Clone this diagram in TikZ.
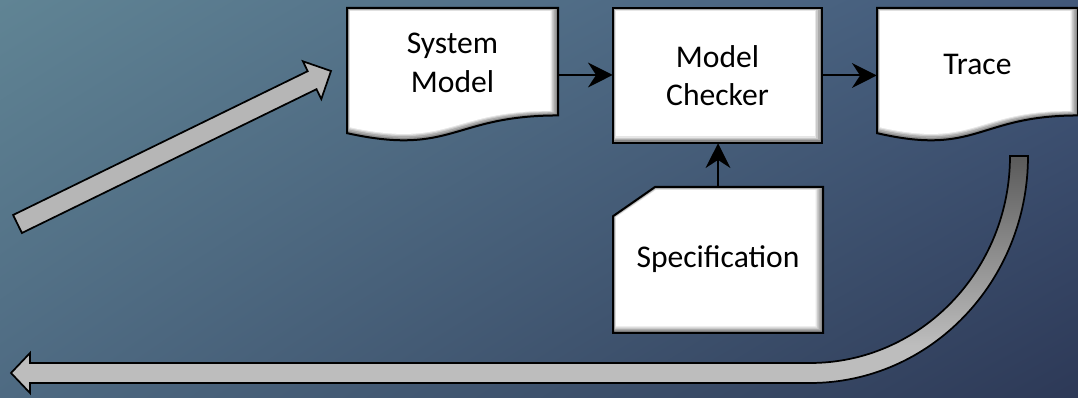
\documentclass[tikz,border=0pt]{standalone}
\usepackage{fontspec}
\setmainfont{Carlito}
\usetikzlibrary{arrows.meta,fit,shadings}
\definecolor{bgUL}{HTML}{608494}
\definecolor{bgLL}{HTML}{4E6A82}
\definecolor{bgUR}{HTML}{42587A}
\definecolor{bgLR}{HTML}{2D3957}
\definecolor{curvDark}{HTML}{5A5A5A}
\definecolor{curvLight}{HTML}{BDBDBD}
\definecolor{arrGray}{HTML}{B6B6B6}
\definecolor{bevA}{HTML}{8C8C8C}
\definecolor{bevB}{HTML}{ABABAB}
\definecolor{bevC}{HTML}{CACACA}
\definecolor{bevD}{HTML}{E6E6E6}
\pgfdeclareverticalshading{curvsh}{100bp}{color(0bp)=(curvLight); color(35bp)=(curvLight); color(75bp)=(curvDark); color(100bp)=(curvDark)}
% document shape: x0 y0 w h
\newcommand\docpth[4]{(#1,#2) -- ({(#1)+(#3)},#2) -- ({(#1)+(#3)},{(#2)+0.802*(#4)}) .. controls ({(#1)+(#3)/2},{(#2)+0.802*(#4)}) and ({(#1)+(#3)/2},{(#2)+1.1075*(#4)}) .. (#1,{(#2)+0.934*(#4)}) -- cycle}
\newcommand\rectpth[4]{(#1,#2) rectangle ({(#1)+(#3)},{(#2)+(#4)})}
\newcommand\cardpth[4]{({(#1)+0.2*(#3)},#2) -- ({(#1)+(#3)},#2) -- ({(#1)+(#3)},{(#2)+(#4)}) -- (#1,{(#2)+(#4)}) -- (#1,{(#2)+0.2*(#4)}) -- cycle}
% bevelled box: shape macro, x0 y0 w h
\newcommand\bevelbox[5]{%
  \fill[bevA] #1{#2}{#3}{#4}{#5};
  \fill[bevB] #1{#2+1}{#3+1}{#4-3.5}{#5-3.5};
  \fill[bevC] #1{#2+1.8}{#3+1.8}{#4-6.3}{#5-6};
  \fill[bevD] #1{#2+2.4}{#3+2.4}{#4-8.4}{#5-7.8};
  \fill[white] #1{#2+3}{#3+3}{#4-10.5}{#5-9.5};
  \draw[boxline] #1{#2}{#3}{#4}{#5};}
\tikzset{
  boxline/.style={line width=1.5pt, line join=miter},
  conn/.style={line width=1.5pt, -{Stealth[length=18.5pt,width=18.5pt,inset=6pt]}},
  lbl/.style={font=\fontsize{23.7pt}{29pt}\selectfont, align=center, text=black, inner sep=0pt},
  blockarr/.style={line width=1.3pt, line join=miter, draw=black}
}
\begin{document}
\begin{tikzpicture}[x=0.75pt,y=-0.75pt]
\useasboundingbox (0,0) rectangle (1078,398);
\shade[upper left=bgUL, lower left=bgLL, upper right=bgUR, lower right=bgLR] (0,0) rectangle (1078,398);

% boxes
\bevelbox{\docpth}{347}{8}{211}{134}
\bevelbox{\rectpth}{613}{8}{209}{135}
\bevelbox{\docpth}{877}{8}{201}{134}
\bevelbox{\cardpth}{613}{187}{210}{146}

\node[fit={(347,8) (558,142)}, inner sep=0pt] (sm) {};
\node[fit={(613,8) (822,143)}, inner sep=0pt] (mc) {};
\node[fit={(877,8) (1078,142)}, inner sep=0pt] (tr) {};
\node[fit={(613,187) (823,333)}, inner sep=0pt] (sp) {};

\node[lbl] (smt) at ([yshift=9pt]sm.center) {System\\Model};
\node[lbl] (mct) at (mc.center) {Model\\Checker};
\node[lbl] (trt) at ([yshift=8pt]tr.center) {Trace};
\node[lbl] (spt) at ([yshift=1pt]sp.center) {Specification};

% connectors
\draw[conn] (sm.east) -- (sm.east -| mc.west);
\draw[conn] (mc.east) -- (mc.east -| tr.west);
\draw[conn] (sp.north) -- (sp.north |- mc.south);

% diagonal block arrow
\fill[arrGray] (21.9,233) -- (316.5,89.2) -- (321.3,99.1) -- (331,71) -- (302.9,61.3) -- (307.7,71.2) -- (13.1,215) -- cycle;
\draw[blockarr] (21.9,233) -- (316.5,89.2) -- (321.3,99.1) -- (331,71) -- (302.9,61.3) -- (307.7,71.2) -- (13.1,215) -- cycle;

% curved return block arrow
\shade[shading=curvsh] (30,363) -- (810,363) .. controls (920.5,363) and (1010,270.3) .. (1010,156) -- (1028,156) .. controls (1028,281.4) and (930.4,383) .. (810,383) -- (30,383) -- (30,393) -- (11,373) -- (30,353) -- cycle;
\draw[blockarr] (30,363) -- (810,363) .. controls (920.5,363) and (1010,270.3) .. (1010,156) -- (1028,156) .. controls (1028,281.4) and (930.4,383) .. (810,383) -- (30,383) -- (30,393) -- (11,373) -- (30,353) -- cycle;
\end{tikzpicture}
\end{document}
